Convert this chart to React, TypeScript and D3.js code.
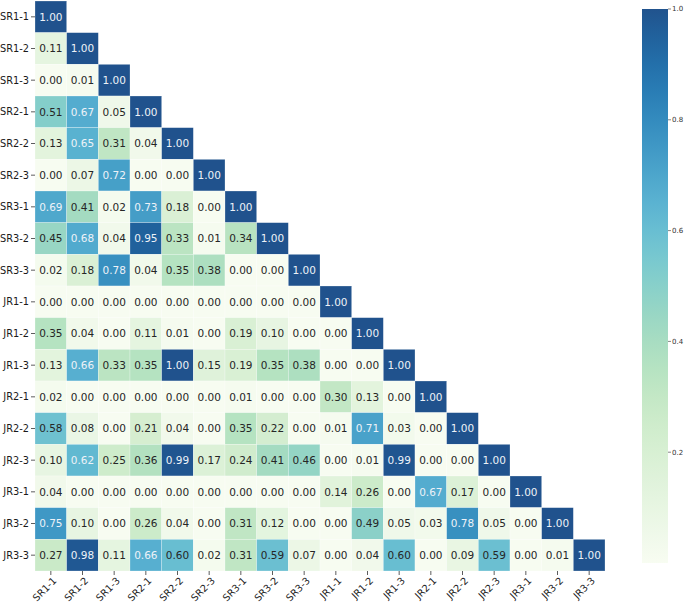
import React from "react";
import * as d3 from "d3";

const labels = ["SR1-1","SR1-2","SR1-3","SR2-1","SR2-2","SR2-3","SR3-1","SR3-2","SR3-3","JR1-1","JR1-2","JR1-3","JR2-1","JR2-2","JR2-3","JR3-1","JR3-2","JR3-3"];

const rowSR1_1 = [1.00];
const rowSR1_2 = [0.11, 1.00];
const rowSR1_3 = [0.00, 0.01, 1.00];
const rowSR2_1 = [0.51, 0.67, 0.05, 1.00];
const rowSR2_2 = [0.13, 0.65, 0.31, 0.04, 1.00];
const rowSR2_3 = [0.00, 0.07, 0.72, 0.00, 0.00, 1.00];
const rowSR3_1 = [0.69, 0.41, 0.02, 0.73, 0.18, 0.00, 1.00];
const rowSR3_2 = [0.45, 0.68, 0.04, 0.95, 0.33, 0.01, 0.34, 1.00];
const rowSR3_3 = [0.02, 0.18, 0.78, 0.04, 0.35, 0.38, 0.00, 0.00, 1.00];
const rowJR1_1 = [0.00, 0.00, 0.00, 0.00, 0.00, 0.00, 0.00, 0.00, 0.00, 1.00];
const rowJR1_2 = [0.35, 0.04, 0.00, 0.11, 0.01, 0.00, 0.19, 0.10, 0.00, 0.00, 1.00];
const rowJR1_3 = [0.13, 0.66, 0.33, 0.35, 1.00, 0.15, 0.19, 0.35, 0.38, 0.00, 0.00, 1.00];
const rowJR2_1 = [0.02, 0.00, 0.00, 0.00, 0.00, 0.00, 0.01, 0.00, 0.00, 0.30, 0.13, 0.00, 1.00];
const rowJR2_2 = [0.58, 0.08, 0.00, 0.21, 0.04, 0.00, 0.35, 0.22, 0.00, 0.01, 0.71, 0.03, 0.00, 1.00];
const rowJR2_3 = [0.10, 0.62, 0.25, 0.36, 0.99, 0.17, 0.24, 0.41, 0.46, 0.00, 0.01, 0.99, 0.00, 0.00, 1.00];
const rowJR3_1 = [0.04, 0.00, 0.00, 0.00, 0.00, 0.00, 0.00, 0.00, 0.00, 0.14, 0.26, 0.00, 0.67, 0.17, 0.00, 1.00];
const rowJR3_2 = [0.75, 0.10, 0.00, 0.26, 0.04, 0.00, 0.31, 0.12, 0.00, 0.00, 0.49, 0.05, 0.03, 0.78, 0.05, 0.00, 1.00];
const rowJR3_3 = [0.27, 0.98, 0.11, 0.66, 0.60, 0.02, 0.31, 0.59, 0.07, 0.00, 0.04, 0.60, 0.00, 0.09, 0.59, 0.00, 0.01, 1.00];

const rows = [rowSR1_1, rowSR1_2, rowSR1_3, rowSR2_1, rowSR2_2, rowSR2_3, rowSR3_1, rowSR3_2, rowSR3_3,
  rowJR1_1, rowJR1_2, rowJR1_3, rowJR2_1, rowJR2_2, rowJR2_3, rowJR3_1, rowJR3_2, rowJR3_3];

const colorbarTicks = [0.2, 0.4, 0.6, 0.8, 1.0];

const W = 685, H = 604;
const left = 35, top = 1, size = 570;
const cbX = 642, cbW = 26, cbTop = 9, cbBottom = 563;

export default function App() {
  const x = d3.scaleBand<string>().domain(labels).range([left, left + size]);
  const y = d3.scaleBand<string>().domain(labels).range([top, top + size]);
  const color = (v: number) => d3.interpolateGnBu(v);
  const cb = d3.scaleLinear().domain([0, 1]).range([cbBottom, cbTop]);
  const font = "DejaVu Sans, sans-serif";
  const stops = d3.range(0, 1.0001, 0.05);

  const cells: any[] = [];
  rows.forEach((r, i) => r.forEach((v, j) => cells.push({ i, j, v })));

  return (
    <svg width={W} height={H} style={{ position: "absolute", left: 0, top: 0, background: "#fff" }}>
      <defs>
        <linearGradient id="cbg" x1="0" y1="1" x2="0" y2="0">
          {stops.map((s) => (
            <stop key={s} offset={s} stopColor={color(s)} />
          ))}
        </linearGradient>
      </defs>
      <g opacity={0.9}>
        {cells.map((c) => (
          <rect key={`${c.i}-${c.j}`} x={x(labels[c.j])!} y={y(labels[c.i])!}
            width={x.bandwidth()} height={y.bandwidth()} fill={color(c.v)}
            stroke="#ffffff" strokeOpacity={0.5} strokeWidth={0.5} />
        ))}
      </g>
      {cells.map((c) => (
        <text key={`t${c.i}-${c.j}`} x={x(labels[c.j])! + x.bandwidth() / 2}
          y={y(labels[c.i])! + y.bandwidth() / 2} dy="0.36em" textAnchor="middle"
          fontFamily={font} fontSize={10.5}
          fill={c.v >= 0.61 ? "#eef2f8" : "#262626"}>
          {c.v.toFixed(2)}
        </text>
      ))}
      {labels.map((l) => (
        <g key={`y${l}`}>
          <line x1={left - 4} x2={left} y1={y(l)! + y.bandwidth() / 2} y2={y(l)! + y.bandwidth() / 2} stroke="#333" strokeWidth={0.8} />
          <text x={left - 6} y={y(l)! + y.bandwidth() / 2} dy="0.35em" textAnchor="end" fontFamily={font} fontSize={9.8} fill="#1a1a1a">{l}</text>
        </g>
      ))}
      {labels.map((l) => {
        const cx = x(l)! + x.bandwidth() / 2;
        return (
          <g key={`x${l}`}>
            <line x1={cx} x2={cx} y1={top + size} y2={top + size + 4} stroke="#333" strokeWidth={0.8} />
            <text transform={`translate(${cx + 4},${top + size + 8}) rotate(-45)`} textAnchor="end" dy="0.35em"
              fontFamily={font} fontSize={9.8} fill="#1a1a1a">{l}</text>
          </g>
        );
      })}
      <rect x={cbX} y={cbTop} width={cbW} height={cbBottom - cbTop} fill="url(#cbg)" opacity={0.9} />
      {colorbarTicks.map((t) => (
        <g key={`cb${t}`}>
          <line x1={cbX + cbW} x2={cbX + cbW + 3} y1={cb(t)} y2={cb(t)} stroke="#333" strokeWidth={0.6} />
          <text x={cbX + cbW + 4} y={cb(t)} dy="0.35em" fontFamily={font} fontSize={7} fill="#333">{t.toFixed(1)}</text>
        </g>
      ))}
    </svg>
  );
}
